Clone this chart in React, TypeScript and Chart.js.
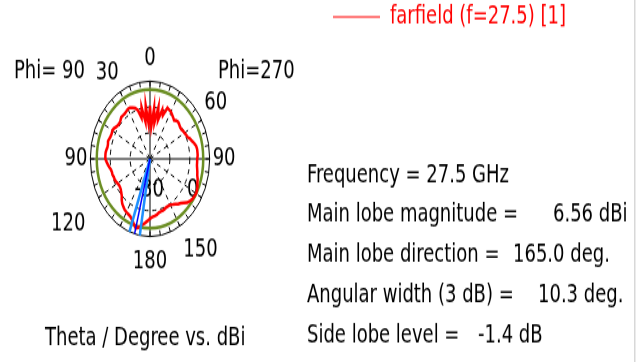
import { useEffect, useRef } from "react";
import { Chart, registerables } from "chart.js";

Chart.register(...registerables);

const FONT = "'DejaVu Sans Condensed', 'DejaVu Sans', sans-serif";

// Display angle, degrees clockwise from top. Right half: Phi=270 (theta = angle); left half: Phi=90 (theta = 360 - angle)
const displayAngles = [
  0, 3, 6, 9, 12, 15, 18, 21, 24, 27, 30, 33, 36, 39, 42, 45, 48, 51, 54, 57,
  60, 63, 66, 69, 72, 75, 78, 81, 84, 87, 90, 93, 96, 99, 102, 105, 108, 111, 114, 117,
  120, 123, 126, 129, 132, 135, 138, 141, 144, 147, 150, 153, 156, 159, 162, 165, 168, 171, 174, 177,
  180, 183, 186, 189, 192, 195, 198, 201, 204, 207, 210, 213, 216, 219, 222, 225, 228, 231, 234, 237,
  240, 243, 246, 249, 252, 255, 258, 261, 264, 267, 270, 273, 276, 279, 282, 285, 288, 291, 294, 297,
  300, 303, 306, 309, 312, 315, 318, 321, 324, 327, 330, 333, 336, 339, 342, 345, 348, 351, 354, 357,
];

// Farfield gain in dBi at each display angle
const gainDbi = [
  -4.4, -16.1, -5.3, -13.9, -4.4, -11.6, -4.9, -8.0, -2.6, -3.1, -3.5, -4.4, -5.3, -6.2, -5.3, -4.9, -5.3, -5.8, -5.8, -5.3,
  -4.9, -4.4, -4.0, -2.6, -1.7, -0.4, 0.6, 1.0, 1.0, 1.0, 0.6, 0.6, 0.6, 1.0, 1.5, 1.9, 2.8, 3.3, 4.2, 4.8,
  5.16, 4.8, 4.6, 3.7, 2.8, 1.0, -0.4, -1.3, -2.6, -3.5, -4.4, -4.4, -4.4, -4.0, -3.5, -3.5, -3.1, -2.2, -1.7, -1.3,
  -0.4, 1.0, 2.4, 3.7, 5.5, 6.56, 4.6, 2.8, 1.5, 1.0, 0.6, 0.1, -0.8, -1.7, -3.1, -4.9, -5.8, -6.7, -7.1, -7.1,
  -6.7, -6.2, -5.8, -5.8, -5.3, -5.3, -4.9, -4.0, -3.1, -2.2, -1.3, -1.3, -1.3, -1.7, -2.2, -2.2, -1.7, -2.2, -2.6, -2.6,
  -2.2, -2.6, -3.5, -4.0, -4.0, -3.5, -2.6, -2.6, -2.6, -2.2, -1.7, -1.7, -2.6, -3.5, -5.3, -10.3, -4.4, -13.4, -4.0, -14.8,
];

const thetaTickAngles = [0, 60, 90, 150, 180, 240, 270, 330];
const thetaTickLabels = ["0", "60", "90", "150", "180", "120", "90", "30"];

const radialMin = -35;
const radialMax = 10;
const radialStep = 15;

const frequencyGHz = 27.5;
const mainLobeMagnitude = 6.56;
const mainLobeDirection = 165.0;
const angularWidth3dB = 10.3;
const sideLobeLevel = -1.4;

const legendLabel = "farfield (f=27.5) [1]";
const phiLeftLabel = "Phi= 90";
const phiRightLabel = "Phi=270";
const axisTitle = "Theta / Degree vs. dBi";
const innerRadialLabels = ["0", "-30"];

const statLabels = [
  `Frequency = ${frequencyGHz} GHz`,
  "Main lobe magnitude =",
  "Main lobe direction =",
  "Angular width (3 dB) =",
  "Side lobe level =",
];
const statValues = [
  "",
  `${mainLobeMagnitude.toFixed(2)} dBi`,
  `${mainLobeDirection.toFixed(1)} deg.`,
  `${angularWidth3dB.toFixed(1)} deg.`,
  `${sideLobeLevel.toFixed(1)} dB`,
];

const RED = "#ff0000";
const GREEN = "#6b8e23";

function polar(s: any, angleDeg: number, dist: number) {
  const a = ((angleDeg - 90) * Math.PI) / 180;
  return { x: s.xCenter + Math.cos(a) * dist, y: s.yCenter + Math.sin(a) * dist };
}

const decor = {
  id: "decor",
  beforeDraw(chart: any) {
    const ctx = chart.ctx;
    ctx.save();
    ctx.fillStyle = "#ffffff";
    ctx.fillRect(0, 0, chart.width, chart.height);
    ctx.restore();
  },
  beforeDatasetsDraw(chart: any) {
    const s = chart.scales.r;
    const ctx = chart.ctx;
    const R = s.drawingArea;
    ctx.save();
    // tick marks on outer ring
    ctx.strokeStyle = "#000";
    ctx.lineWidth = 1;
    for (let a = 0; a < 360; a += 10) {
      const p1 = polar(s, a, R);
      const p2 = polar(s, a, R - 4);
      ctx.beginPath();
      ctx.moveTo(p1.x, p1.y);
      ctx.lineTo(p2.x, p2.y);
      ctx.stroke();
    }
    // inner radial labels
    ctx.fillStyle = "#000";
    ctx.font = `20px ${FONT}`;
    ctx.textAlign = "center";
    ctx.textBaseline = "middle";
    const p0 = polar(s, 119, R * 0.82);
    ctx.fillText(innerRadialLabels[0], p0.x, p0.y);
    const p1 = polar(s, 182, R * 0.4);
    ctx.fillText(innerRadialLabels[1], p1.x, p1.y);
    // side lobe level circle
    const d = s.getDistanceFromCenterForValue(mainLobeMagnitude + sideLobeLevel);
    ctx.strokeStyle = GREEN;
    ctx.lineWidth = 2.5;
    ctx.beginPath();
    ctx.arc(s.xCenter, s.yCenter, d, 0, Math.PI * 2);
    ctx.stroke();
    ctx.restore();
  },
  afterDatasetsDraw(chart: any) {
    const s = chart.scales.r;
    const ctx = chart.ctx;
    const R = s.getDistanceFromCenterForValue(radialMax);
    const main = 360 - mainLobeDirection; // Phi=90 side
    const half = angularWidth3dB / 2;
    ctx.save();
    const line = (ang: number, color: string, w: number) => {
      const p = polar(s, ang, R);
      ctx.strokeStyle = color;
      ctx.lineWidth = w;
      ctx.beginPath();
      ctx.moveTo(s.xCenter, s.yCenter);
      ctx.lineTo(p.x, p.y);
      ctx.stroke();
    };
    line(main - half, "#1e90ff", 2.5);
    line(main + half, "#1e90ff", 2.5);
    line(main, "#0000ff", 1.5);
    ctx.restore();
  },
  afterDraw(chart: any) {
    const ctx = chart.ctx;
    ctx.save();
    ctx.font = `20px ${FONT}`;
    ctx.textBaseline = "middle";
    ctx.textAlign = "left";
    // legend
    ctx.strokeStyle = RED;
    ctx.lineWidth = 1.2;
    ctx.beginPath();
    ctx.moveTo(333, 13);
    ctx.lineTo(380, 13);
    ctx.stroke();
    ctx.fillStyle = RED;
    ctx.fillText(legendLabel, 390, 13);
    // phi labels
    ctx.fillStyle = "#000";
    ctx.fillText(phiLeftLabel, 14, 55);
    ctx.fillText(phiRightLabel, 218, 55);
    // axis title
    ctx.fillText(axisTitle, 45, 260);
    // stats
    const rowY = [134.4, 165.1, 195.9, 226.6, 257.3];
    const valueX = [0, 553, 513, 538, 478];
    statLabels.forEach((t, i) => {
      ctx.fillText(t, 307, rowY[i]);
      if (statValues[i]) ctx.fillText(statValues[i], valueX[i], rowY[i]);
    });
    // right border line
    ctx.fillStyle = "#d8d8d8";
    ctx.fillRect(634, 0, 1.5, chart.height);
    ctx.restore();
  },
};

export default function App() {
  const ref = useRef<HTMLCanvasElement>(null);
  useEffect(() => {
    const canvas = ref.current as HTMLCanvasElement;
    const chart = new Chart(canvas, {
      type: "radar",
      data: {
        labels: displayAngles.map(String),
        datasets: [
          {
            label: legendLabel,
            data: gainDbi,
            borderColor: RED,
            backgroundColor: "rgba(0,0,0,0)",
            borderWidth: 2.5,
            pointRadius: 0,
            pointHoverRadius: 0,
            fill: false,
            tension: 0,
          },
        ],
      },
      options: {
        responsive: false,
        animation: false,
        devicePixelRatio: 1,
        layout: { padding: { left: 45, right: 401, top: 24, bottom: 56 } },
        plugins: { legend: { display: false }, tooltip: { enabled: false } },
        scales: {
          r: {
            min: radialMin,
            max: radialMax,
            startAngle: 0,
            ticks: { display: false, stepSize: radialStep },
            grid: { circular: true, color: "#000", lineWidth: 1 },
            border: {
              dash: (c: any) => (c.tick && c.tick.value === radialMax ? [] : [4, 4]),
            },
            angleLines: {
              display: true,
              color: "#000",
              lineWidth: (c: any) => (displayAngles[c.index] % 30 === 0 ? 1 : 0),
              borderDash: (c: any) => (displayAngles[c.index] % 90 === 0 ? [] : [4, 4]),
            },
            pointLabels: {
              display: true,
              color: "#000",
              font: { family: FONT, size: 20 },
              padding: (c: any) => {
                const a = displayAngles[c.index];
                if (a === 0) return 6;
                if (a === 180 || a === 150) return 7;
                if (a === 240) return 15;
                return 3;
              },
              callback: (_l: any, i: number) => {
                const k = thetaTickAngles.indexOf(displayAngles[i]);
                return k >= 0 ? thetaTickLabels[k] : "";
              },
            },
          },
        },
      } as any,
      plugins: [decor],
    });
    return () => chart.destroy();
  }, []);
  return (
    <div style={{ position: "absolute", left: 0, top: 0, width: 644, height: 362, background: "#fff", overflow: "hidden" }}>
      <div style={{ width: 644, height: 278, transform: `scaleY(${362 / 278})`, transformOrigin: "0 0" }}>
        <canvas ref={ref} width={644} height={278} />
      </div>
    </div>
  );
}
